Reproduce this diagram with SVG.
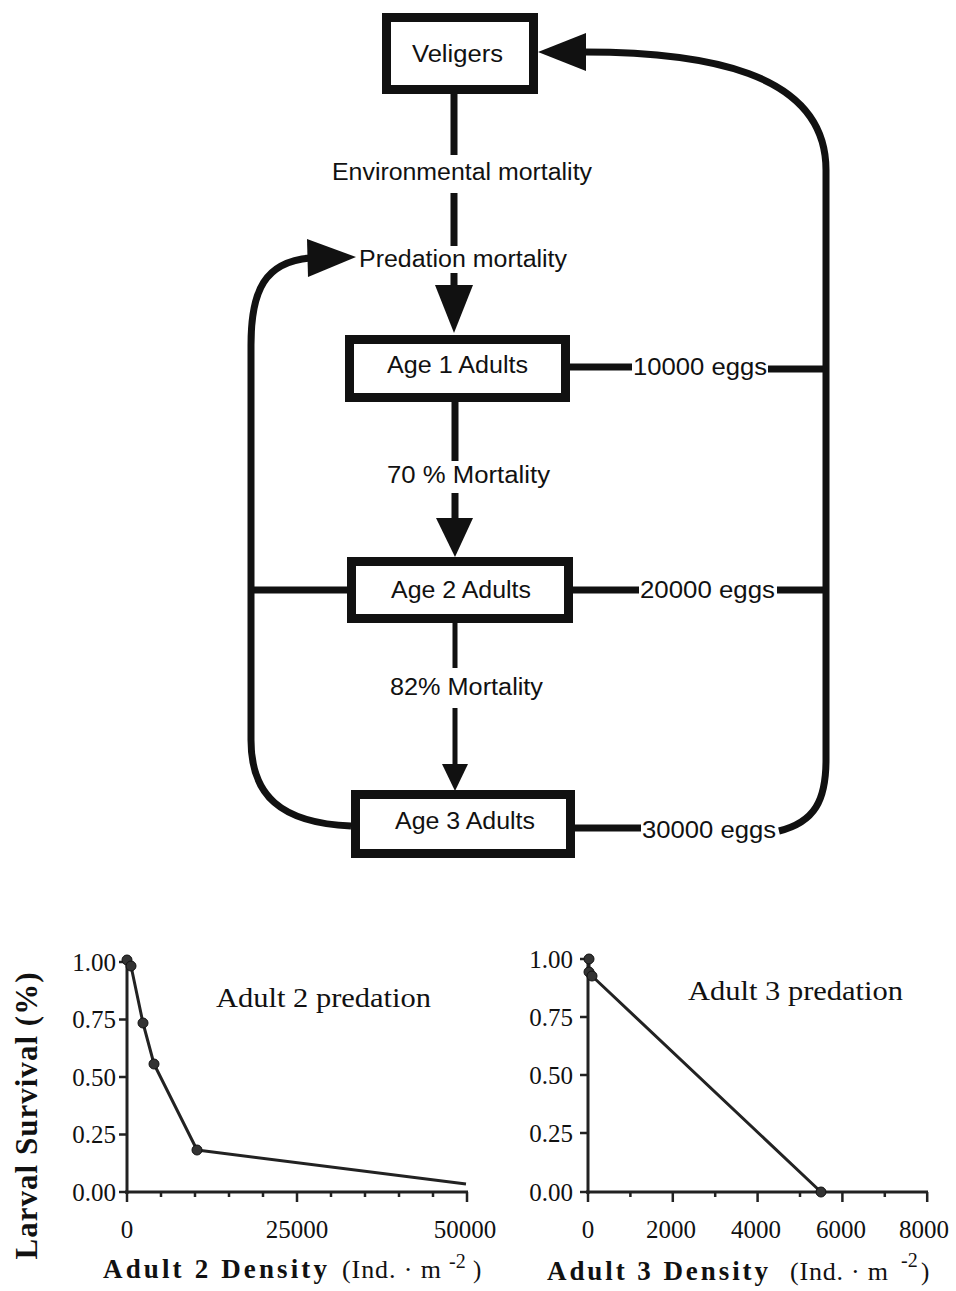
<svg xmlns="http://www.w3.org/2000/svg" width="956" height="1291" viewBox="0 0 956 1291">
<style>
.box{fill:#fff;stroke:#111;stroke-width:9}
.lbl{font-family:"Liberation Sans",Arial,sans-serif;font-size:23px;fill:#111}
.con{fill:none;stroke:#111;stroke-width:7}
.thin{fill:none;stroke:#111;stroke-width:5}
.head{fill:#111}
.ax{fill:none;stroke:#222;stroke-width:3}
.tk{stroke:#222;stroke-width:2.5}
.ser{font-family:"Liberation Serif","Times New Roman",serif;fill:#111}
.tl{font-size:25px}
.dat{fill:none;stroke:#222;stroke-width:3;stroke-linejoin:round}
.pt{fill:#333;stroke:#111;stroke-width:1}
</style>
<rect width="956" height="1291" fill="#fff"/>

<g id="connectors">
  <path class="con" d="M454,94 V155 M454,193 V246 M454,273 V287"/>
  <polygon class="head" points="435,285 473,285 454,333"/>
  <path class="con" d="M455,402 V461 M455,493 V520"/>
  <polygon class="head" points="436,518 473,518 455,557"/>
  <path class="thin" d="M455,623 V668 M455,708 V766"/>
  <polygon class="head" points="442,764 468,764 455,791"/>
  <path class="con" d="M570,367 H632 M768,369 H826"/>
  <path class="con" d="M573,590 H639 M777,590 H826"/>
  <path class="con" d="M575,828 H641 M779,831 C815,822 826,800 826,760 L826,170 C826,70 700,52 584,52"/>
  <polygon class="head" points="538,52 586,33 586,71"/>
  <path class="con" d="M251,590 H347"/>
  <path class="con" d="M351,826 C280,823 251,795 251,740 L251,345 C251,290 265,262 310,258"/>
  <polygon class="head" points="307,239 308,277 356,257"/>
</g>

<g id="veligers">
  <rect class="box" x="386.5" y="17.5" width="147" height="72"/>
  <text class="lbl" x="457.5" y="62" text-anchor="middle" textLength="91" lengthAdjust="spacingAndGlyphs">Veligers</text>
</g>
<g id="env-label">
  <text class="lbl" x="462" y="180" text-anchor="middle" textLength="260" lengthAdjust="spacingAndGlyphs">Environmental mortality</text>
</g>
<g id="pred-label">
  <text class="lbl" x="463" y="267" text-anchor="middle" textLength="208" lengthAdjust="spacingAndGlyphs">Predation mortality</text>
</g>
<g id="age1">
  <rect class="box" x="349.5" y="339.5" width="216" height="58"/>
  <text class="lbl" x="457.5" y="373" text-anchor="middle" textLength="141" lengthAdjust="spacingAndGlyphs">Age 1 Adults</text>
</g>
<g id="eggs1"><text class="lbl" x="633" y="375" textLength="134" lengthAdjust="spacingAndGlyphs">10000 eggs</text></g>
<g id="mort70"><text class="lbl" x="387" y="483" textLength="163" lengthAdjust="spacingAndGlyphs">70 %  Mortality</text></g>
<g id="age2">
  <rect class="box" x="351.5" y="561.5" width="217" height="57"/>
  <text class="lbl" x="461" y="598" text-anchor="middle" textLength="140" lengthAdjust="spacingAndGlyphs">Age 2 Adults</text>
</g>
<g id="eggs2"><text class="lbl" x="640" y="598" textLength="135" lengthAdjust="spacingAndGlyphs">20000 eggs</text></g>
<g id="mort82"><text class="lbl" x="390" y="695" textLength="153" lengthAdjust="spacingAndGlyphs">82% Mortality</text></g>
<g id="age3">
  <rect class="box" x="355.5" y="794.5" width="215" height="59"/>
  <text class="lbl" x="465" y="829" text-anchor="middle" textLength="140" lengthAdjust="spacingAndGlyphs">Age 3 Adults</text>
</g>
<g id="eggs3"><text class="lbl" x="642" y="838" textLength="134" lengthAdjust="spacingAndGlyphs">30000 eggs</text></g>

<g id="chart1">
  <text class="ser" font-weight="bold" font-size="31" transform="translate(37,1116) rotate(-90)" text-anchor="middle" textLength="287" lengthAdjust="spacing">Larval  Survival  (%)</text>
  <path class="ax" d="M127,956 V1194 M125,1192 H468"/>
  <path class="tk" d="M119,962 H127 M119,1019.5 H127 M119,1077 H127 M119,1134.5 H127 M119,1192 H127
    M127,1192 V1202 M161,1192 V1197 M195,1192 V1197 M229,1192 V1197 M263,1192 V1197 M297,1192 V1202
    M331,1192 V1197 M365,1192 V1197 M399,1192 V1197 M433,1192 V1197 M467,1192 V1202"/>
  <g class="ser tl" text-anchor="end">
    <text x="116" y="971">1.00</text>
    <text x="116" y="1028">0.75</text>
    <text x="116" y="1086">0.50</text>
    <text x="116" y="1143">0.25</text>
    <text x="116" y="1201">0.00</text>
  </g>
  <g class="ser tl" text-anchor="middle">
    <text x="127" y="1238">0</text>
    <text x="297" y="1238">25000</text>
    <text x="465" y="1238">50000</text>
  </g>
  <polyline class="dat" points="127,960 131,966 143,1023 154,1064 197,1150 466,1184"/>
  <circle class="pt" cx="127" cy="960" r="5"/>
  <circle class="pt" cx="131" cy="966" r="5"/>
  <circle class="pt" cx="143" cy="1023" r="5"/>
  <circle class="pt" cx="154" cy="1064" r="5"/>
  <circle class="pt" cx="197" cy="1150" r="5"/>
  <text class="ser" font-size="28" x="216" y="1007" textLength="215" lengthAdjust="spacingAndGlyphs">Adult 2 predation</text>
  <text class="ser" font-size="25" y="1278"><tspan x="103" font-weight="bold" font-size="27" textLength="224" lengthAdjust="spacing">Adult  2  Density</tspan><tspan x="342" font-size="26" textLength="99" lengthAdjust="spacing">(Ind. · m</tspan><tspan x="449" dy="-10" font-size="20">-2</tspan><tspan x="473" dy="10">)</tspan></text>
</g>

<g id="chart2">
  <path class="ax" d="M588,955 V1194 M586,1192 H928"/>
  <path class="tk" d="M580,959 H588 M580,1017 H588 M580,1075 H588 M580,1133 H588 M580,1192 H588
    M588,1192 V1202 M630.4,1192 V1197 M672.8,1192 V1202 M715.2,1192 V1197 M757.6,1192 V1202
    M800,1192 V1197 M842.4,1192 V1202 M884.8,1192 V1197 M927.2,1192 V1202"/>
  <g class="ser tl" text-anchor="end">
    <text x="573" y="968">1.00</text>
    <text x="573" y="1026">0.75</text>
    <text x="573" y="1084">0.50</text>
    <text x="573" y="1142">0.25</text>
    <text x="573" y="1201">0.00</text>
  </g>
  <g class="ser tl" text-anchor="middle">
    <text x="588" y="1238">0</text>
    <text x="671" y="1238">2000</text>
    <text x="756" y="1238">4000</text>
    <text x="841" y="1238">6000</text>
    <text x="924" y="1238">8000</text>
  </g>
  <polyline class="dat" points="589,959 589,972 592,976 821,1192"/>
  <circle class="pt" cx="589" cy="959" r="5"/>
  <circle class="pt" cx="589" cy="972" r="5"/>
  <circle class="pt" cx="592" cy="976" r="5"/>
  <circle class="pt" cx="821" cy="1192" r="5"/>
  <text class="ser" font-size="28" x="688" y="1000" textLength="215" lengthAdjust="spacingAndGlyphs">Adult 3 predation</text>
  <text class="ser" font-size="25" y="1280"><tspan x="547" font-weight="bold" font-size="27" textLength="221" lengthAdjust="spacing">Adult  3  Density</tspan><tspan x="790" font-size="26" textLength="98" lengthAdjust="spacing">(Ind. · m</tspan><tspan x="901" dy="-13" font-size="20">-2</tspan><tspan x="921" dy="13">)</tspan></text>
</g>
</svg>
